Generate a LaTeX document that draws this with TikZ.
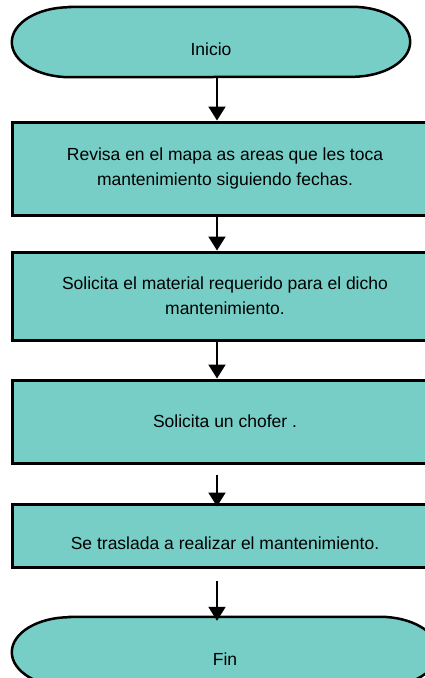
\documentclass[tikz,border=0pt]{standalone}
\usepackage{fontspec}
\setmainfont{Liberation Sans}
\usetikzlibrary{arrows.meta, positioning, calc, backgrounds}
\definecolor{turquesa}{RGB}{118, 206, 199}

\begin{document}
\begin{tikzpicture}[x=1pt, y=-1pt,
  caja/.style={draw=black, line width=3pt, fill=turquesa, minimum width=426pt,
    align=center, inner sep=0pt, font=\fontsize{17.5}{25}\selectfont},
  term/.style={minimum width=398pt, minimum height=70pt, inner sep=0pt,
    text height=27pt, text depth=0pt, font=\fontsize{17.5}{25}\selectfont},
  bordeterm/.style={draw=black, line width=2.5pt, fill=turquesa},
  bajo/.style={text height=27pt, text depth=0pt},
  flecha/.style={-{Triangle[width=17pt,length=14pt]}, line width=2pt}]
  \useasboundingbox (0,0) rectangle (425,678);

  % ===== inicio y fin =====
  \node[term] (ini) at (211,42) {Inicio};
  \node[term, minimum width=426pt] (fin) at (225,652) {Fin};

  \begin{scope}[on background layer]
    \foreach \t in {ini, fin} {
      \draw[bordeterm] ($(\t.north west)+(58,0)$) -- ($(\t.north east)+(-58,0)$)
        arc[start angle=90, end angle=-90, x radius=58pt, y radius=35pt]
        -- ($(\t.south west)+(58,0)$)
        arc[start angle=270, end angle=90, x radius=58pt, y radius=35pt] -- cycle;
    }
  \end{scope}

  % ===== pasos =====
  \node[caja, minimum height=93pt] (rev) at (225,168.5)
    {Revisa en el mapa as areas que les toca\\mantenimiento siguiendo fechas.};
  \node[caja, minimum height=88pt] (mat) at (225,296)
    {Solicita el material requerido para el dicho\\mantenimiento.};
  \node[caja, minimum height=83pt] (cho) at (225,421.5) {Solicita un chofer .};
  \node[caja, bajo, minimum height=63pt] (tras) at (225,535.5)
    {Se traslada a realizar el mantenimiento.};

  % ===== flechas =====
  \coordinate (eje) at (217,0);
  \draw[flecha] (ini.south -| eje) -- (rev.north -| eje);
  \draw[flecha] (rev.south -| eje) -- (mat.north -| eje);
  \draw[flecha] (mat.south -| eje) -- (cho.north -| eje);
  \draw[flecha, shorten <=10pt, shorten >=-4pt] (cho.south -| eje) -- (tras.north -| eje);
  \draw[flecha, shorten <=12pt, shorten >=-4pt] (tras.south -| eje) -- (fin.north -| eje);
\end{tikzpicture}
\end{document}
